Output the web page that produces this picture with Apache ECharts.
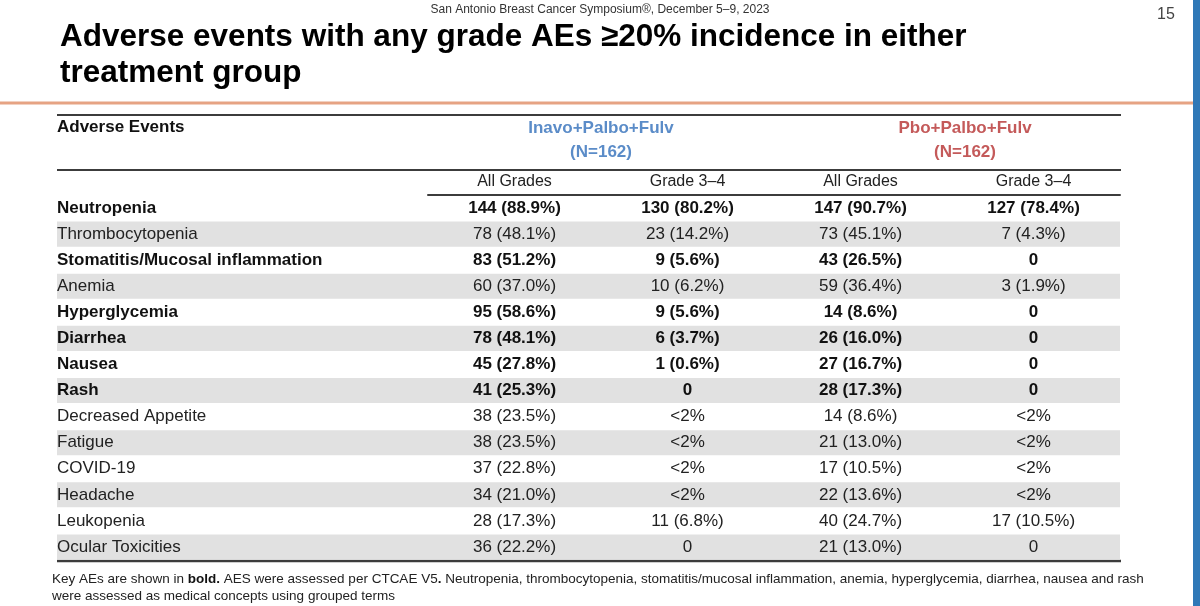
<!DOCTYPE html>
<html><head><meta charset="utf-8">
<script src="https://cdn.jsdelivr.net/npm/echarts@6/dist/echarts.min.js"></script>
<style>html,body{margin:0;padding:0;background:#fff}#c{width:1200px;height:606px}</style>
</head><body><div id="c"></div><script>
// ---- data ----
const events = ['Neutropenia','Thrombocytopenia','Stomatitis/Mucosal inflammation','Anemia','Hyperglycemia','Diarrhea','Nausea','Rash','Decreased Appetite','Fatigue','COVID-19','Headache','Leukopenia','Ocular Toxicities'];
const keyAE = [true,false,true,false,true,true,true,true,false,false,false,false,false,false];
const columns = ['All Grades','Grade 3–4','All Grades','Grade 3–4'];
const inavoAll = ['144 (88.9%)','78 (48.1%)','83 (51.2%)','60 (37.0%)','95 (58.6%)','78 (48.1%)','45 (27.8%)','41 (25.3%)','38 (23.5%)','38 (23.5%)','37 (22.8%)','34 (21.0%)','28 (17.3%)','36 (22.2%)'];
const inavoG34 = ['130 (80.2%)','23 (14.2%)','9 (5.6%)','10 (6.2%)','9 (5.6%)','6 (3.7%)','1 (0.6%)','0','<2%','<2%','<2%','<2%','11 (6.8%)','0'];
const pboAll = ['147 (90.7%)','73 (45.1%)','43 (26.5%)','59 (36.4%)','14 (8.6%)','26 (16.0%)','27 (16.7%)','28 (17.3%)','14 (8.6%)','21 (13.0%)','17 (10.5%)','22 (13.6%)','40 (24.7%)','21 (13.0%)'];
const pboG34 = ['127 (78.4%)','7 (4.3%)','0','3 (1.9%)','0','0','0','0','<2%','<2%','<2%','<2%','17 (10.5%)','0'];
const groups = ['Inavo+Palbo+Fulv','Pbo+Palbo+Fulv'];
const groupN = ['(N=162)','(N=162)'];
const titleLines = ['Adverse events with any grade AEs \u226520% incidence in either','treatment group'];
const header = 'San Antonio Breast Cancer Symposium\u00ae, December 5\u20139, 2023';
const pageNo = '15';

// ---- build ----
const FONT = '"Liberation Sans", Arial, sans-serif';
const colsData = [inavoAll, inavoG34, pboAll, pboG34];
const cells = [];
colsData.forEach((col, ci) => col.forEach((v, ri) => cells.push([ci, ri, v, keyAE[ri] ? 1 : 0])));
const bands = events.map((e, i) => [0, i, i % 2]);

const chart = echarts.init(document.getElementById('c'), null, {renderer: 'canvas'});
const TABLE_LEFT = 57;
const option = {
  backgroundColor: '#fff',
  animation: false,
  grid: {left: 428, width: 692, top: 195, height: 365},
  xAxis: {
    type: 'category', data: columns, position: 'top', z: 10,
    axisLine: {show: true, lineStyle: {color: '#3c3c3c', width: 2}},
    axisTick: {show: false},
    axisLabel: {fontFamily: FONT, fontSize: 16, color: '#222', margin: 5}
  },
  yAxis: {
    type: 'category', data: events, inverse: true, z: 10,
    axisLine: {show: false}, axisTick: {show: false}, splitLine: {show: false},
    axisLabel: {
      align: 'left', margin: 428 - TABLE_LEFT, fontFamily: FONT, fontSize: 17, color: '#111',
      formatter: (v, i) => keyAE[i] ? '{b|' + v + '}' : '{n|' + v + '}',
      rich: {b: {fontWeight: 'bold', fontSize: 17, fontFamily: FONT, color: '#111'}, n: {fontSize: 17, fontFamily: FONT, color: '#222'}}
    }
  },
  series: [
    {
      type: 'custom', data: bands, silent: true, z: 1,
      renderItem: (params, api) => {
        if (!api.value(2)) return;
        const p = api.coord([0, api.value(1)]);
        const h = api.size([0, 1])[1];
        const cs = params.coordSys;
        return {type: 'rect', shape: {x: TABLE_LEFT, y: p[1] - h / 2 + 0.5, width: cs.x + cs.width - TABLE_LEFT, height: h - 1}, style: {fill: '#e1e1e1'}};
      }
    },
    {
      type: 'custom', data: cells, silent: true, z: 3,
      renderItem: (params, api) => {
        const p = api.coord([api.value(0), api.value(1)]);
        const d = cells[params.dataIndex];
        return {type: 'text', style: {text: d[2], x: p[0], y: p[1], align: 'center', verticalAlign: 'middle',
          font: (d[3] ? 'bold ' : '') + '17px ' + FONT, fill: d[3] ? '#111' : '#222'}};
      }
    }
  ],
  graphic: [
    {type: 'rect', shape: {x: 1193, y: 0, width: 7, height: 606}, style: {fill: '#2f78b7'}},
    {type: 'text', style: {text: header, x: 600, y: 10, align: 'center', verticalAlign: 'middle', font: '12px ' + FONT, fill: '#333'}},
    {type: 'text', style: {text: pageNo, x: 1166, y: 15, align: 'center', verticalAlign: 'middle', font: '16px ' + FONT, fill: '#444'}},
    {type: 'text', style: {text: titleLines[0], x: 60, y: 37, align: 'left', verticalAlign: 'middle', font: 'bold 31.5px ' + FONT, fill: '#000'}},
    {type: 'text', style: {text: titleLines[1], x: 60, y: 73, align: 'left', verticalAlign: 'middle', font: 'bold 31.5px ' + FONT, fill: '#000'}},
    {type: 'rect', shape: {x: 0, y: 101.5, width: 1193, height: 3}, style: {fill: '#e6a383'}},
    {type: 'line', shape: {x1: 57, y1: 115, x2: 1121, y2: 115}, style: {stroke: '#3c3c3c', lineWidth: 2}},
    {type: 'line', shape: {x1: 57, y1: 170, x2: 1121, y2: 170}, style: {stroke: '#3c3c3c', lineWidth: 2}},
    {type: 'line', shape: {x1: 57, y1: 561, x2: 1121, y2: 561}, style: {stroke: '#3c3c3c', lineWidth: 2.5}},
    {type: 'text', style: {text: 'Adverse Events', x: 57, y: 127, align: 'left', verticalAlign: 'middle', font: 'bold 17px ' + FONT, fill: '#111'}},
    {type: 'text', style: {text: groups[0], x: 601, y: 128, align: 'center', verticalAlign: 'middle', font: 'bold 17px ' + FONT, fill: '#5b8cc8'}},
    {type: 'text', style: {text: groupN[0], x: 601, y: 152, align: 'center', verticalAlign: 'middle', font: 'bold 17px ' + FONT, fill: '#5b8cc8'}},
    {type: 'text', style: {text: groups[1], x: 965, y: 128, align: 'center', verticalAlign: 'middle', font: 'bold 17px ' + FONT, fill: '#c45a5a'}},
    {type: 'text', style: {text: groupN[1], x: 965, y: 152, align: 'center', verticalAlign: 'middle', font: 'bold 17px ' + FONT, fill: '#c45a5a'}},
    {type: 'text', style: {
      text: 'Key AEs are shown in {b|bold.} AES were assessed per CTCAE V5{b|.} Neutropenia, thrombocytopenia, stomatitis/mucosal inflammation, anemia, hyperglycemia, diarrhea, nausea and rash\nwere assessed as medical concepts using grouped terms',
      x: 52, y: 571, align: 'left', verticalAlign: 'top', font: '13.5px ' + FONT, fill: '#222', lineHeight: 17,
      rich: {b: {fontWeight: 'bold', fontSize: 13.5, fontFamily: FONT, fill: '#111', lineHeight: 17}}
    }}
  ]
};
chart.setOption(option);
</script></body></html>
